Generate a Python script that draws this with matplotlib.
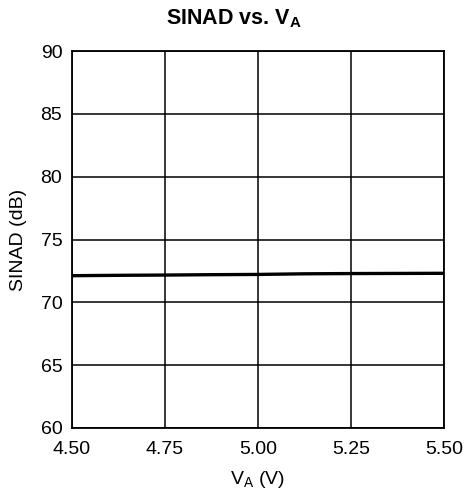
import matplotlib
matplotlib.use("Agg")
import matplotlib.pyplot as plt

# supply voltage (V) and measured SINAD (dB)
va = [4.50, 4.625, 4.75, 4.875, 5.00, 5.125, 5.25, 5.375, 5.50]
sinad = [72.12, 72.15, 72.17, 72.20, 72.22, 72.27, 72.29, 72.30, 72.31]

x_ticks = [4.50, 4.75, 5.00, 5.25, 5.50]
x_labels = ['4.50', '4.75', '5.00', '5.25', '5.50']
y_ticks = [60, 65, 70, 75, 80, 85, 90]

plt.rcParams['font.family'] = ['Liberation Sans', 'DejaVu Sans']
plt.rcParams['mathtext.fontset'] = 'custom'
plt.rcParams['mathtext.rm'] = 'Liberation Sans'
plt.rcParams['mathtext.bf'] = 'Liberation Sans:bold'

fig = plt.figure(figsize=(4.68, 5.01), dpi=100)
# axes box: x 72..444 px, y 51..428 px
ax = fig.add_axes([72 / 468, 1 - 428 / 501, 372 / 468, 377 / 501])

ax.plot(va, sinad, color='black', linewidth=2.4, solid_capstyle='butt')

ax.set_xlim(4.5, 5.5)
ax.set_ylim(60, 90)
ax.set_xticks(x_ticks)
ax.set_xticklabels(x_labels)
ax.set_yticks(y_ticks)
ax.grid(True, color='black', linewidth=1.1)
ax.tick_params(length=0, labelsize=14, colors='black')
ax.tick_params(axis='x', pad=9)
ax.tick_params(axis='y', pad=7)
for s in ax.spines.values():
    s.set_linewidth(1.3)
    s.set_color('black')

ax.set_xlabel(r'V$_\mathrm{A}$ (V)', fontsize=14, labelpad=8)
ax.set_ylabel('SINAD (dB)', fontsize=14, labelpad=10)
fig.text(0.5, 1 - 19 / 501, r'SINAD vs. V$_\mathbf{A}$', fontsize=15.5,
         fontweight='bold', ha='center', va='center')

fig.savefig('out.png', dpi=100)
